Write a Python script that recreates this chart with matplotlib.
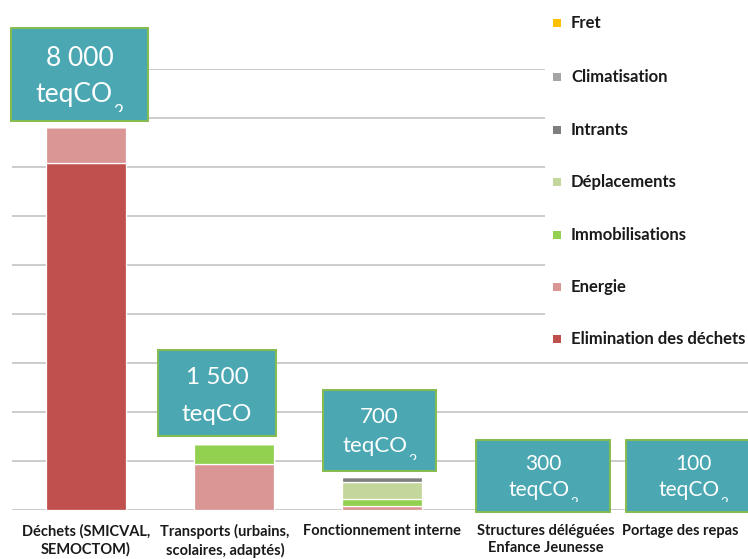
import matplotlib
matplotlib.use("Agg")
import matplotlib.pyplot as plt
from matplotlib.patches import Rectangle
from matplotlib.transforms import Bbox, ScaledTranslation
import numpy as np

# ---------------- data ----------------
categories = ["Déchets (SMICVAL,\nSEMOCTOM)",
              "Transports (urbains,\nscolaires, adaptés)",
              "Fonctionnement interne",
              "Structures déléguées\nEnfance Jeunesse",
              "Portage des repas"]

series_names = ["Elimination des déchets", "Energie", "Immobilisations",
                "Déplacements", "Intrants", "Climatisation", "Fret"]
elimination = [7080, 0, 0, 0, 0]
energie = [740, 930, 90, 180, 30]
immobilisations = [0, 410, 140, 40, 10]
deplacements = [0, 0, 350, 60, 0]
intrants = [0, 0, 100, 20, 10]
climatisation = [0, 0, 0, 0, 0]
fret = [0, 0, 0, 0, 50]
series_values = [elimination, energie, immobilisations, deplacements,
                 intrants, climatisation, fret]
series_colors = ["#C0504D", "#D99694", "#92D050", "#C3D69B",
                 "#7F7F7F", "#A5A5A5", "#FFC000"]

totals_label = ["8 000", "1 500", "700", "300", "100"]
unit_label = ["teqCO", "teqCO", "teqCO", "teqCO", "teqCO"]
unit_sub = ["2", "", "2", "2", "2"]

# ---------------- style ----------------
FONT = "Lato"
plt.rcParams["font.family"] = [FONT, "DejaVu Sans"]

W, H = 748, 559
fig = plt.figure(figsize=(W / 100, H / 100), dpi=100)
fig.patch.set_facecolor("white")

def fx(px):
    return px / W

def fy(py):
    return 1 - py / H

ax = fig.add_axes([fx(12), fy(510), 740 / W, 441 / H])
x = np.arange(len(categories))
bottom = np.zeros(len(categories))
for name, vals, col in zip(series_names, series_values, series_colors):
    ax.bar(x, vals, width=0.54, bottom=bottom, color=col, edgecolor="white",
           linewidth=0.9, label=name, zorder=3)
    bottom += np.array(vals)

ax.set_xlim(-0.5, 4.5)
ax.set_ylim(0, 9000)
ax.set_yticks(np.arange(0, 9001, 1000))
ax.set_yticklabels([])
ax.tick_params(axis="y", length=0)
ax.tick_params(axis="x", length=0, pad=10)
ax.yaxis.grid(True, color="#BFBFBF", linewidth=1.1, zorder=0)
ax.set_axisbelow(True)
for s in ax.spines.values():
    s.set_visible(False)
ax.set_xticks(x)
ax.set_xticklabels(categories, fontsize=10.5, fontweight="bold",
                   color="#1a1a1a", linespacing=1.3)
label_shift_px = [0, -9, 0, 16, 2]
for lab, dx in zip(ax.get_xticklabels(), label_shift_px):
    lab.set_transform(lab.get_transform() +
                      ScaledTranslation(dx / 100, 0, fig.dpi_scale_trans))

# ---------------- legend (manual, white backing) ----------------
fig.add_artist(Rectangle((fx(545), fy(355)), 1 - fx(545), fy(0) - fy(355),
                         transform=fig.transFigure, facecolor="white",
                         edgecolor="none", zorder=1))
leg_y = [339, 287, 235, 182, 130, 77, 23]
for name, col, yy in zip(series_names, series_colors, leg_y):
    fig.add_artist(Rectangle((fx(553), fy(yy + 4)), 8 / W, 8 / H,
                             transform=fig.transFigure, facecolor=col,
                             edgecolor="none", zorder=2))
    fig.text(fx(571), fy(yy), name, fontsize=12, fontweight="bold",
             color="#1a1a1a", va="center", ha="left", zorder=2)

# ---------------- value boxes ----------------
boxes = [  # x0, ytop, x1, ybottom, line1 y, line2 baseline, sub top, clip y, fontsize
    (11, 28, 148, 121, 58, 102, 104, 112, 19),
    (158, 350, 276, 436, 378, 421, 421, 436, 17.5),
    (323, 390, 436, 471, 417, 452, 454, 460, 16),
    (476, 440, 610, 512, 464, 496, 497, 502, 15),
    (626, 440, 760, 512, 464, 496, 497, 502, 15),
]
renderer = fig.canvas.get_renderer()
for (x0, y0, x1, y1, l1, bl, st, cy, fs), t1, t2, sub in zip(
        boxes, totals_label, unit_label, unit_sub):
    fig.add_artist(Rectangle((fx(x0), fy(y1)), (x1 - x0) / W, (y1 - y0) / H,
                             transform=fig.transFigure, facecolor="#4BA8B2",
                             edgecolor="#86BC4E", linewidth=1.4, zorder=5))
    cxp = (x0 + x1) / 2
    fig.text(fx(cxp), fy(l1), t1, fontsize=fs, color="white", ha="center",
             va="center", zorder=6)
    tmain = fig.text(0, fy(bl), t2, fontsize=fs, color="white", ha="left",
                     va="baseline", zorder=6)
    w1 = tmain.get_window_extent(renderer).width
    if sub:
        tsub = fig.text(0, fy(st), sub, fontsize=fs * 0.65, color="white",
                        ha="left", va="top", zorder=6)
        w2 = tsub.get_window_extent(renderer).width
    else:
        w2 = 0
    start = cxp - (w1 + w2 + (1 if sub else 0)) / 2
    tmain.set_x(fx(start))
    if sub:
        tsub.set_x(fx(start + w1 + 1))
        clip = Bbox.from_extents(x0, H - cy, x1, H - y0)
        tsub.set_clip_box(clip)
        tsub.set_clip_on(True)

fig.savefig("out.png", dpi=100)
